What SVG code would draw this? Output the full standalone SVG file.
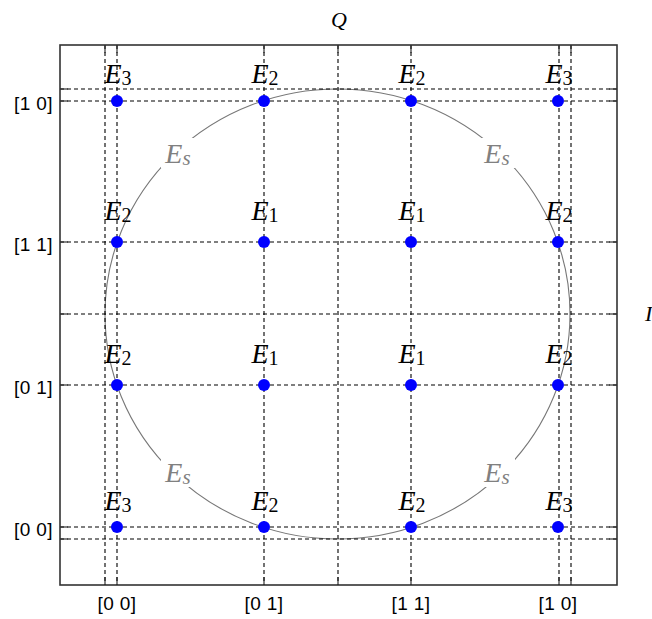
<svg xmlns="http://www.w3.org/2000/svg" width="652" height="619" viewBox="0 0 652 619">
<style>
.grid line{stroke:#000;stroke-width:1.1;stroke-dasharray:4 3}
.tick line{stroke:#222;stroke-width:1.1}
.frame{fill:none;stroke:#333;stroke-width:1.6}
.dot{fill:#0000ff}
.tl{font-family:"Liberation Sans",Arial,sans-serif;font-size:19px;letter-spacing:0.4px;fill:#000}
.ax{font-family:"Liberation Serif","Times New Roman",serif;font-style:italic;font-size:22px;fill:#000}
.e{font-family:"Liberation Serif","Times New Roman",serif;font-style:italic;font-size:28px;fill:#000;text-anchor:middle}
.sub{font-style:normal;font-size:20px}
.es{font-family:"Liberation Serif","Times New Roman",serif;font-style:italic;font-size:28px;fill:#808080;text-anchor:middle}
</style>
<rect x="0" y="0" width="652" height="619" fill="#fff"/>
<g id="circle">
<ellipse cx="337.5" cy="314" rx="232.5" ry="225" fill="none" stroke="#777" stroke-width="1.1"/>
<rect x="161" y="138" width="36" height="30" fill="#fff"/>
<rect x="479" y="138" width="36" height="30" fill="#fff"/>
<rect x="161" y="457" width="36" height="30" fill="#fff"/>
<rect x="479" y="457" width="36" height="30" fill="#fff"/>
<text class="es" x="178" y="163">E<tspan font-size="21" dy="2">s</tspan></text>
<text class="es" x="497" y="163">E<tspan font-size="21" dy="2">s</tspan></text>
<text class="es" x="178" y="482">E<tspan font-size="21" dy="2">s</tspan></text>
<text class="es" x="497" y="482">E<tspan font-size="21" dy="2">s</tspan></text>
</g>
<g id="connectors" class="grid">
<line x1="105" y1="45" x2="105" y2="585"/>
<line x1="117" y1="45" x2="117" y2="585"/>
<line x1="264" y1="45" x2="264" y2="585"/>
<line x1="338" y1="45" x2="338" y2="585"/>
<line x1="411" y1="45" x2="411" y2="585"/>
<line x1="559" y1="45" x2="559" y2="585"/>
<line x1="571" y1="45" x2="571" y2="585"/>
<line x1="60" y1="89" x2="617" y2="89"/>
<line x1="60" y1="101" x2="617" y2="101"/>
<line x1="60" y1="242" x2="617" y2="242"/>
<line x1="60" y1="314" x2="617" y2="314"/>
<line x1="60" y1="385" x2="617" y2="385"/>
<line x1="60" y1="527" x2="617" y2="527"/>
<line x1="60" y1="539" x2="617" y2="539"/>
</g>
<g id="axes">
<g class="tick">
<line x1="105" y1="45" x2="105" y2="53"/><line x1="117" y1="45" x2="117" y2="53"/><line x1="264" y1="45" x2="264" y2="53"/><line x1="338" y1="45" x2="338" y2="53"/><line x1="411" y1="45" x2="411" y2="53"/><line x1="559" y1="45" x2="559" y2="53"/><line x1="571" y1="45" x2="571" y2="53"/>
<line x1="105" y1="585" x2="105" y2="577"/><line x1="117" y1="585" x2="117" y2="577"/><line x1="264" y1="585" x2="264" y2="577"/><line x1="338" y1="585" x2="338" y2="577"/><line x1="411" y1="585" x2="411" y2="577"/><line x1="559" y1="585" x2="559" y2="577"/><line x1="571" y1="585" x2="571" y2="577"/>
<line x1="60" y1="89" x2="68" y2="89"/><line x1="60" y1="101" x2="68" y2="101"/><line x1="60" y1="242" x2="68" y2="242"/><line x1="60" y1="314" x2="68" y2="314"/><line x1="60" y1="385" x2="68" y2="385"/><line x1="60" y1="527" x2="68" y2="527"/><line x1="60" y1="539" x2="68" y2="539"/>
<line x1="617" y1="89" x2="609" y2="89"/><line x1="617" y1="101" x2="609" y2="101"/><line x1="617" y1="242" x2="609" y2="242"/><line x1="617" y1="314" x2="609" y2="314"/><line x1="617" y1="385" x2="609" y2="385"/><line x1="617" y1="527" x2="609" y2="527"/><line x1="617" y1="539" x2="609" y2="539"/>
</g>
<rect class="frame" x="60" y="45" width="557" height="540"/>
<text class="tl" x="53" y="110" text-anchor="end">[1 0]</text>
<text class="tl" x="53" y="251" text-anchor="end">[1 1]</text>
<text class="tl" x="53" y="394" text-anchor="end">[0 1]</text>
<text class="tl" x="53" y="536" text-anchor="end">[0 0]</text>
<text class="tl" x="117" y="610" text-anchor="middle">[0 0]</text>
<text class="tl" x="264" y="610" text-anchor="middle">[0 1]</text>
<text class="tl" x="411" y="610" text-anchor="middle">[1 1]</text>
<text class="tl" x="558" y="610" text-anchor="middle">[1 0]</text>
<text class="ax" x="339" y="27" text-anchor="middle">Q</text>
<text class="ax" x="645" y="321">I</text>
</g>
<g id="p-00-10"><circle class="dot" cx="117" cy="101" r="6"/><text class="e" x="118" y="83">E<tspan class="sub" dy="2">3</tspan></text></g>
<g id="p-01-10"><circle class="dot" cx="264" cy="101" r="6"/><text class="e" x="265" y="83">E<tspan class="sub" dy="2">2</tspan></text></g>
<g id="p-11-10"><circle class="dot" cx="411" cy="101" r="6"/><text class="e" x="412" y="83">E<tspan class="sub" dy="2">2</tspan></text></g>
<g id="p-10-10"><circle class="dot" cx="558" cy="101" r="6"/><text class="e" x="559" y="83">E<tspan class="sub" dy="2">3</tspan></text></g>
<g id="p-00-11"><circle class="dot" cx="117" cy="242" r="6"/><text class="e" x="118" y="220">E<tspan class="sub" dy="2">2</tspan></text></g>
<g id="p-01-11"><circle class="dot" cx="264" cy="242" r="6"/><text class="e" x="265" y="220">E<tspan class="sub" font-style="italic" dy="2">1</tspan></text></g>
<g id="p-11-11"><circle class="dot" cx="411" cy="242" r="6"/><text class="e" x="412" y="220">E<tspan class="sub" font-style="italic" dy="2">1</tspan></text></g>
<g id="p-10-11"><circle class="dot" cx="558" cy="242" r="6"/><text class="e" x="559" y="220">E<tspan class="sub" dy="2">2</tspan></text></g>
<g id="p-00-01"><circle class="dot" cx="117" cy="385" r="6"/><text class="e" x="118" y="363">E<tspan class="sub" dy="2">2</tspan></text></g>
<g id="p-01-01"><circle class="dot" cx="264" cy="385" r="6"/><text class="e" x="265" y="363">E<tspan class="sub" font-style="italic" dy="2">1</tspan></text></g>
<g id="p-11-01"><circle class="dot" cx="411" cy="385" r="6"/><text class="e" x="412" y="363">E<tspan class="sub" font-style="italic" dy="2">1</tspan></text></g>
<g id="p-10-01"><circle class="dot" cx="558" cy="385" r="6"/><text class="e" x="559" y="363">E<tspan class="sub" dy="2">2</tspan></text></g>
<g id="p-00-00"><circle class="dot" cx="117" cy="527" r="6"/><text class="e" x="118" y="510">E<tspan class="sub" dy="2">3</tspan></text></g>
<g id="p-01-00"><circle class="dot" cx="264" cy="527" r="6"/><text class="e" x="265" y="510">E<tspan class="sub" dy="2">2</tspan></text></g>
<g id="p-11-00"><circle class="dot" cx="411" cy="527" r="6"/><text class="e" x="412" y="510">E<tspan class="sub" dy="2">2</tspan></text></g>
<g id="p-10-00"><circle class="dot" cx="558" cy="527" r="6"/><text class="e" x="559" y="510">E<tspan class="sub" dy="2">3</tspan></text></g>
</svg>
